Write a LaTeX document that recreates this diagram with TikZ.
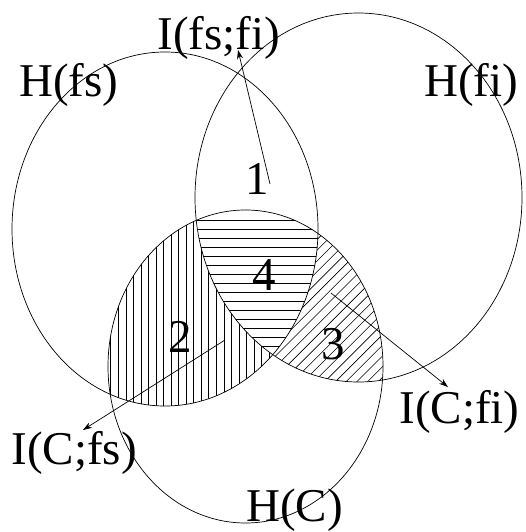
\documentclass[tikz,border=0pt]{standalone}
\usepackage{fontspec}
\setmainfont{Liberation Serif}
\usetikzlibrary{arrows.meta}
\begin{document}
\begin{tikzpicture}[x=1pt,y=-1pt,line width=0.7pt,
  lbl/.style={inner sep=0pt,font=\fontsize{47}{47}\selectfont},
  hatch/.style={line width=0.6pt},
  conn/.style={line width=0.7pt,-{Stealth[length=9pt,width=6pt]}}]
\useasboundingbox (0,0) rectangle (526,532);
% region 2: C and fs (vertical lines)
\begin{scope}
  \clip (245.5,366.5) ellipse [x radius=137.5, y radius=156.5];
  \clip (165,229) ellipse [x radius=153, y radius=177];
  \foreach \k in {-2,...,26} \draw[hatch] ({118.3+7.54*\k},200) -- ({118.3+7.54*\k},420);
\end{scope}
% region 3: C and fi (diagonal lines)
\begin{scope}
  \clip (245.5,366.5) ellipse [x radius=137.5, y radius=156.5];
  \clip (358.5,197.5) ellipse [x radius=163.5, y radius=184.5];
  \foreach \k in {-20,...,8} \draw[hatch] ({685+10.7*\k-180},180) -- ({685+10.7*\k-530},530);
\end{scope}
% region 4: C, fs and fi (horizontal lines)
\begin{scope}
  \clip (245.5,366.5) ellipse [x radius=137.5, y radius=156.5];
  \clip (165,229) ellipse [x radius=153, y radius=177];
  \clip (358.5,197.5) ellipse [x radius=163.5, y radius=184.5];
  \fill[white] (0,0) rectangle (526,532);
  \foreach \k in {0,...,16} \draw[hatch] (100,{220+9*\k}) -- (400,{220+9*\k});
\end{scope}
% the three sets
\draw (165,229) ellipse [x radius=153, y radius=177];
\draw (358.5,197.5) ellipse [x radius=163.5, y radius=184.5];
\draw (245.5,366.5) ellipse [x radius=137.5, y radius=156.5];
% labels
\node[lbl,anchor=base west] (Ifsfi) at (157,50) {I(fs;fi)};
\node[lbl,anchor=base west] (Hfs) at (19,97) {H(fs)};
\node[lbl,anchor=base west] (Hfi) at (424,97) {H(fi)};
\node[lbl,anchor=base west] (ICfi) at (399,423) {I(C;fi)};
\node[lbl,anchor=base west] (ICfs) at (11,464) {I(C;fs)};
\node[lbl,anchor=base west] (HC) at (246,521) {H(C)};
\node[lbl,anchor=base] (n1) at (257,194) {1};
\node[lbl,anchor=base] (n4) at (264,290) {4};
\node[lbl,anchor=base] (n2) at (180,352) {2};
\node[lbl,anchor=base] (n3) at (333,359) {3};
% connectors
\coordinate (t1) at (270,184);
\coordinate (h1) at (238,50);
\coordinate (t2) at (225,340);
\coordinate (h2) at (83,430);
\coordinate (t3) at (331,293);
\coordinate (h3) at (448,387);
\draw[conn] (t1) -- (h1);
\draw[conn] (t2) -- (h2);
\draw[conn] (t3) -- (h3);
\end{tikzpicture}
\end{document}
